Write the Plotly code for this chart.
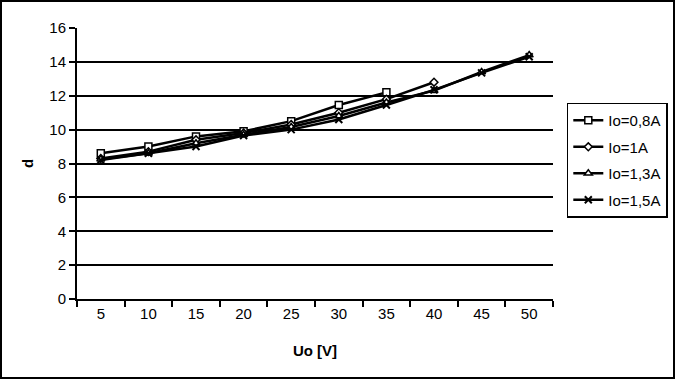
import plotly.graph_objects as go

categories = ["5", "10", "15", "20", "25", "30", "35", "40", "45", "50"]
io_08 = [8.6, 9.0, 9.6, 9.9, 10.5, 11.45, 12.2]
io_1 = [8.3, 8.7, 9.4, 9.8, 10.3, 11.0, 11.8, 12.8]
io_13 = [8.25, 8.6, 9.2, 9.7, 10.15, 10.8, 11.6, 12.3, 13.4, 14.4]
io_15 = [8.2, 8.6, 9.0, 9.65, 10.0, 10.6, 11.45, 12.35, 13.35, 14.3]
y_ticks = [0, 2, 4, 6, 8, 10, 12, 14, 16]
grid_vals = [2, 4, 6, 8, 10, 12, 14]

series = [
    ("Io=0,8A", io_08, "square", 7),
    ("Io=1A", io_1, "diamond", 6),
    ("Io=1,3A", io_13, "triangle-up", 7),
    ("Io=1,5A", io_15, "x-thin", 7),
]

fig = go.Figure()
for i, (name, vals, sym, size) in enumerate(series):
    fig.add_trace(go.Scatter(
        x=categories[:len(vals)], y=vals, name=name, mode="lines+markers",
        legendgroup=f"g{i}",
        line=dict(color="black", width=2.5),
        marker=dict(symbol=sym, size=size, color="white",
                    line=dict(color="black", width=1.5 if sym != "x-thin" else 2)),
    ))

# invisible trace to drive the grid axis
fig.add_trace(go.Scatter(x=[categories[0]], y=[0], yaxis="y2", showlegend=False,
                         mode="markers", marker=dict(opacity=0), hoverinfo="skip"))

family = "Liberation Sans, Arial, sans-serif"
font = dict(family=family, size=15, color="black")
fig.update_layout(
    width=675, height=379,
    margin=dict(l=77, r=122, t=28, b=80, autoexpand=False),
    paper_bgcolor="white", plot_bgcolor="white",
    font=font,
    showlegend=True,
    legend=dict(x=1.029, y=0.725, xanchor="left", yanchor="top",
                bordercolor="black", borderwidth=1.5, bgcolor="white",
                font=dict(family=family, size=15),
                tracegroupgap=4, itemwidth=30),
    xaxis=dict(type="category", categoryorder="array", categoryarray=categories,
               range=[-0.5, 9.5], showgrid=False, showline=True, linecolor="black",
               linewidth=2, ticks="outside", tickson="boundaries", ticklen=6,
               tickwidth=2, tickcolor="black", zeroline=False,
               tickfont=dict(family=family, size=15),
               title=dict(text="<b>Uo [V]</b>", standoff=24, font=dict(family=family, size=15))),
    yaxis=dict(range=[0, 16], tickvals=y_ticks, showgrid=False, showline=True,
               linecolor="black", linewidth=2, ticks="outside", ticklen=6,
               tickwidth=2, tickcolor="black", zeroline=False,
               tickfont=dict(family=family, size=15),
               title=dict(text="<b>d</b>", standoff=12, font=dict(family=family, size=15))),
    yaxis2=dict(range=[0, 16], overlaying="y", tickvals=grid_vals, showgrid=True,
                gridcolor="black", gridwidth=2, showticklabels=False, ticks="",
                zeroline=False, showline=False),
)
# outer figure border
fig.add_shape(type="rect", xref="paper", yref="paper",
              x0=-76/476, y0=-79/271, x1=1+121/476, y1=1+27/271,
              line=dict(color="black", width=2), layer="above")
fig.write_html("out.html", config={"displayModeBar": False},
               post_script="document.body.style.margin='0';")
